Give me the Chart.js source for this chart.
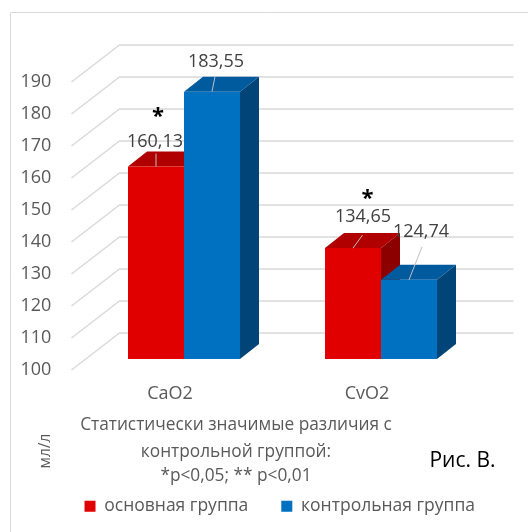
<!DOCTYPE html>
<html>
<head>
<meta charset="utf-8">
<script src="https://cdn.jsdelivr.net/npm/chart.js@4"></script>
<style>
  html, body { margin: 0; padding: 0; background: #fff; }
  #wrap { width: 528px; height: 532px; }
</style>
</head>
<body>
<div id="wrap"><canvas id="chart"></canvas></div>
<script>
const categories = ['CaO2', 'CvO2'];
const mainGroup = [160.13, 134.65];
const controlGroup = [183.55, 124.74];
const seriesNames = ['основная группа', 'контрольная группа'];
const mainMarks = ['*', '*'];
const yMin = 100, yMax = 190, yStep = 10;
const noteLines = ['Статистически значимые различия с', 'контрольной группой:', '*p<0,05; ** p<0,01'];
const unitLabel = 'мл/л';
const figLabel = 'Рис. В.';

// styles / geometry of the fake 3D look
const frontColors = ['#e00000', '#0070c0'];
const topColors = ['#b00000', '#005a9e'];
const sideColors = ['#8c0000', '#004478'];
const depth = { dx: 19, dy: 15 };
const wallFront = [-14, 11], wallBack = [34, -26];
const FONT = '"Open Sans", sans-serif';
// label centre, leader start and star, relative to the bar's front-top centre
const labelPos = [
  [{ t: [-1, -25], l: [0, -13], m: [2, -54] }, { t: [10, -31], l: [9.5, -13], m: [14.5, -53] }],
  [{ t: [4, -30], l: [3, -15] }, { t: [12, -48], l: [13, -33] }]
];

function poly(ctx, pts) {
  ctx.beginPath();
  pts.forEach((p, i) => i ? ctx.lineTo(p[0], p[1]) : ctx.moveTo(p[0], p[1]));
  ctx.closePath();
  ctx.fill();
}

const bars3d = {
  id: 'bars3d',
  beforeDatasetsDraw(chart) {
    const { ctx, chartArea: a, scales: { y } } = chart;
    ctx.save();
    ctx.strokeStyle = '#d9d9d9';
    ctx.lineWidth = 1;
    ctx.beginPath();
    ctx.moveTo(10.5, 532); ctx.lineTo(10.5, 12.5); ctx.lineTo(528, 12.5);
    ctx.stroke();
    ctx.lineWidth = 1.5;
    for (let v = yMin; v <= yMax; v += yStep) {
      const py = y.getPixelForValue(v);
      ctx.beginPath();
      ctx.moveTo(a.left + wallFront[0], py + wallFront[1]);
      ctx.lineTo(a.left + wallBack[0], py + wallBack[1]);
      ctx.lineTo(a.right + wallBack[0], py + wallBack[1]);
      ctx.stroke();
    }
    categories.forEach((c, i) => {
      chart.data.datasets.forEach((ds, d) => {
        const bar = chart.getDatasetMeta(d).data[i];
        const l = bar.x - bar.width / 2, r = bar.x + bar.width / 2;
        const base = Math.min(bar.base, a.bottom);
        ctx.fillStyle = topColors[d];
        poly(ctx, [[l, bar.y], [l + depth.dx, bar.y - depth.dy], [r + depth.dx, bar.y - depth.dy], [r, bar.y]]);
        ctx.fillStyle = sideColors[d];
        poly(ctx, [[r, bar.y], [r + depth.dx, bar.y - depth.dy], [r + depth.dx, base - depth.dy], [r, base]]);
      });
    });
    ctx.restore();
  },
  afterDatasetsDraw(chart) {
    const { ctx } = chart;
    ctx.save();
    ctx.textAlign = 'center';
    ctx.textBaseline = 'middle';
    chart.data.datasets.forEach((ds, d) => {
      chart.getDatasetMeta(d).data.forEach((bar, i) => {
        const p = labelPos[d][i];
        ctx.strokeStyle = '#bfbfbf';
        ctx.lineWidth = 1;
        ctx.beginPath();
        ctx.moveTo(bar.x + p.l[0], bar.y + p.l[1]);
        ctx.lineTo(bar.x, bar.y);
        ctx.stroke();
        ctx.fillStyle = '#404040';
        ctx.font = '18px ' + FONT;
        ctx.fillText(ds.data[i].toFixed(2).replace('.', ','), bar.x + p.t[0], bar.y + p.t[1]);
        if (d === 0 && mainMarks[i]) {
          ctx.fillStyle = '#000';
          ctx.font = 'bold 22px ' + FONT;
          ctx.fillText(mainMarks[i], bar.x + p.m[0], bar.y + p.m[1] + 4);
        }
      });
    });
    ctx.fillStyle = '#595959';
    ctx.font = '17.3px ' + FONT;
    const noteY = [425, 452, 476];
    noteLines.forEach((t, k) => ctx.fillText(t, 236, noteY[k]));
    ctx.save();
    ctx.translate(46, 451);
    ctx.rotate(-Math.PI / 2);
    ctx.font = '15.5px ' + FONT;
    ctx.fillText(unitLabel, 0, 0);
    ctx.restore();
    ctx.fillStyle = '#000';
    ctx.font = '21px ' + FONT;
    ctx.textBaseline = 'alphabetic';
    ctx.fillText(figLabel, 462.5, 467);
    ctx.restore();
  }
};

new Chart(document.getElementById('chart'), {
  type: 'bar',
  data: {
    labels: categories,
    datasets: [
      { label: seriesNames[0], data: mainGroup, backgroundColor: frontColors[0] },
      { label: seriesNames[1], data: controlGroup, backgroundColor: frontColors[1] }
    ]
  },
  options: {
    responsive: true,
    maintainAspectRatio: false,
    animation: false,
    layout: { padding: { top: 71, left: 31.5, right: 0, bottom: 7 } },
    datasets: { bar: { barPercentage: 1, categoryPercentage: 0.5685, borderWidth: 0 } },
    plugins: {
      tooltip: { enabled: false },
      legend: {
        position: 'bottom',
        labels: { boxWidth: 11, boxHeight: 11, padding: 33, color: '#595959', font: { family: FONT, size: 17.5 } }
      }
    },
    scales: {
      x: {
        grid: { display: false, drawTicks: false },
        border: { display: false },
        ticks: { color: '#595959', padding: 24, labelOffset: -14, font: { family: FONT, size: 18 } },
        afterFit: s => { s.height = 105.5; }
      },
      y: {
        min: yMin, max: yMax,
        grid: { display: false, drawTicks: false },
        border: { display: false },
        ticks: { stepSize: yStep, color: '#595959', mirror: true, padding: -65, labelOffset: 11, font: { family: FONT, size: 18 } },
        afterFit: s => { s.width = 54; }
      },
      y2: {
        position: 'right',
        grid: { display: false, drawTicks: false },
        border: { display: false },
        ticks: { display: false },
        afterFit: s => { s.width = 48.5; }
      }
    }
  },
  plugins: [bars3d]
});
</script>
</body>
</html>
